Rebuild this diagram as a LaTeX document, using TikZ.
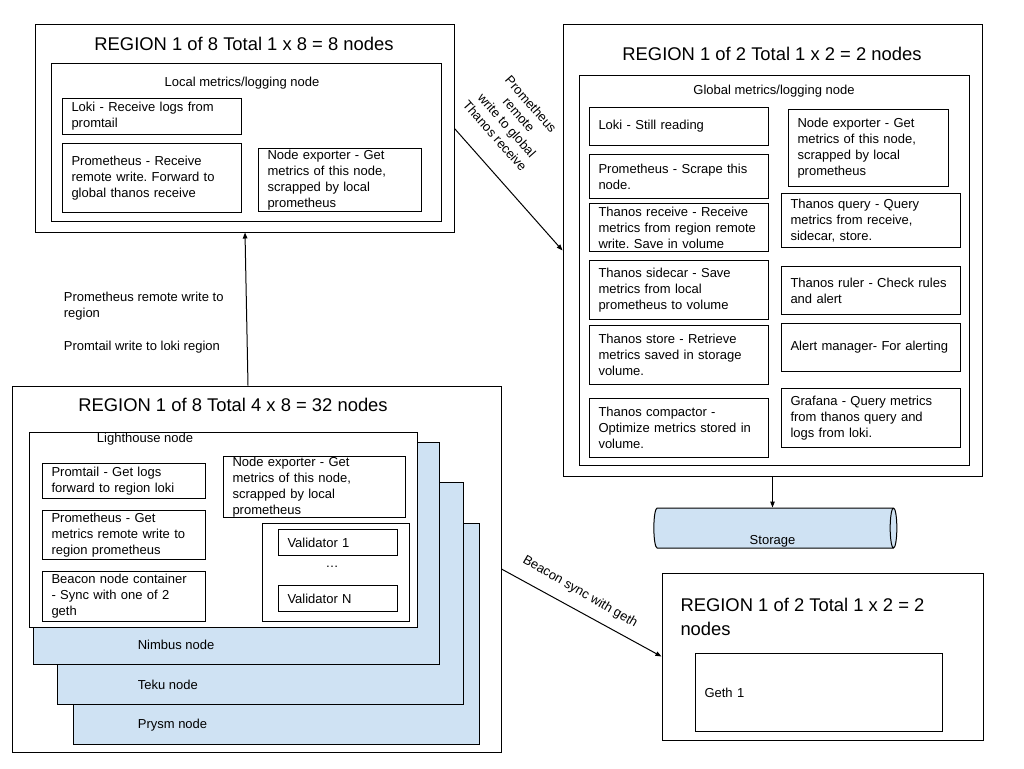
\documentclass[tikz,border=0pt]{standalone}
\usepackage{fontspec}
\setmainfont{Liberation Sans}
\frenchspacing
\usetikzlibrary{positioning,shapes.geometric,arrows.meta,calc}
\definecolor{clientblue}{HTML}{CFE2F3}
\newcommand{\regfont}{\fontsize{18.4}{24}\selectfont}
\newcommand{\compfont}{\fontsize{13}{16}\selectfont}

\begin{document}
\begin{tikzpicture}[x=1pt, y=-1pt, line width=1pt, >={Triangle[length=6pt,width=4.5pt]},
	region/.style = {draw},
	holder/.style = {draw, fill=white},
	client/.style = {draw, fill=clientblue},
	comp/.style 2 args = {draw, fill=white, anchor=north west, align=left, font=\compfont, inner xsep=9pt, inner ysep=0pt, text width=#1, minimum height=#2},
	heading/.style = {font=\regfont},
	caption/.style = {font=\compfont}]
			\useasboundingbox (0,0) rectangle (1024,768);
			
			% local region
			\node[region, minimum width=419pt, minimum height=207pt] (regA) at (244.5,128.5) {};
			\node[heading] (regAtitle) at (244,44) {REGION 1 of 8 Total 1 x 8 = 8 nodes};
			\node[holder, minimum width=390pt, minimum height=158pt] (localnode) at (246,142) {};
			\node[caption] (locallabel) at (242,83) {Local metrics/logging node};
			\node[comp={161pt}{36pt}] (lokiA) at (62,98) {Loki - Receive logs from\\promtail};
			\node[comp={161pt}{69pt}, below=8pt of lokiA.south west, anchor=north west] (promA) {Prometheus - Receive\\remote write. Forward to\\global thanos receive};
			\node[comp={145pt}{63pt}] (nodeexpA) at (258,148) {Node exporter - Get\\metrics of this node,\\scrapped by local\\prometheus};
			
			% global region
			\node[region, minimum width=419pt, minimum height=451pt] (regB) at (772.5,250.5) {};
			\node[heading] (regBtitle) at (772,54) {REGION 1 of 2 Total 1 x 2 = 2 nodes};
			\node[holder, minimum width=390pt, minimum height=390pt] (globalnode) at (774,270) {};
			\node[caption] (globallabel) at (774,91) {Global metrics/logging node};
			\node[comp={161pt}{38pt}] (lokiG) at (589,107) {Loki - Still reading};
			\node[comp={161pt}{44pt}, below=8pt of lokiG.south west, anchor=north west] (promG) {Prometheus - Scrape this\\node.};
			\node[comp={161pt}{48pt}, below=4pt of promG.south west, anchor=north west] (receive) {Thanos receive - Receive\\metrics from region remote\\write. Save in volume};
			\node[comp={161pt}{59pt}, below=8pt of receive.south west, anchor=north west] (sidecar) {Thanos sidecar - Save\\metrics from local\\prometheus to volume};
			\node[comp={161pt}{59pt}, below=5pt of sidecar.south west, anchor=north west] (store) {Thanos store - Retrieve\\metrics saved in storage\\volume.};
			\node[comp={161pt}{59pt}, below=13pt of store.south west, anchor=north west] (compactor) {Thanos compactor -\\Optimize metrics stored in\\volume.};
			\node[comp={142pt}{77pt}] (nodeexpG) at (788,109) {Node exporter - Get\\metrics of this node,\\scrapped by local\\prometheus};
			\node[comp={161pt}{54pt}] (query) at (781,193) {Thanos query - Query\\metrics from receive,\\sidecar, store.};
			\node[comp={161pt}{48pt}, below=18pt of query.south west, anchor=north west] (ruler) {Thanos ruler - Check rules\\and alert};
			\node[comp={161pt}{48pt}, below=8pt of ruler.south west, anchor=north west] (alertmgr) {Alert manager- For alerting};
			\node[comp={161pt}{59pt}, below=16pt of alertmgr.south west, anchor=north west] (grafana) {Grafana - Query metrics\\from thanos query and\\logs from loki.};
			
			\node[cylinder, draw, fill=clientblue, minimum height=243pt, minimum width=40pt, aspect=1, label={[caption, inner sep=1pt, anchor=south]south:Storage}] (storage) at (772.5,528) {};
			
			% client region
			\node[region, minimum width=489pt, minimum height=366pt] (regC) at (256.5,569) {};
			\node[heading] (regCtitle) at (233,405) {REGION 1 of 8 Total 4 x 8 = 32 nodes};
			\node[client, minimum width=406pt, minimum height=221pt] (prysm) at (276,633.5) {};
			\node[caption, anchor=west] (prysmlabel) at (134,725) {Prysm node};
			\node[client, minimum width=406pt, minimum height=222pt] (teku) at (260,593) {};
			\node[caption, anchor=west] (tekulabel) at (134,685) {Teku node};
			\node[client, minimum width=406pt, minimum height=222pt] (nimbus) at (236,553) {};
			\node[caption, anchor=west] (nimbuslabel) at (134,645) {Nimbus node};
			\node[holder, minimum width=388pt, minimum height=195pt] (lighthouse) at (223,529.5) {};
			\node[caption] (lighthouselabel) at (145,439) {Lighthouse node};
			\node[comp={145pt}{35pt}] (promtail) at (42,463) {Promtail - Get logs\\forward to region loki};
			\node[comp={145pt}{49pt}, below=11pt of promtail.south west, anchor=north west] (promL) {Prometheus - Get\\metrics remote write to\\region prometheus};
			\node[comp={145pt}{50pt}, below=11pt of promL.south west, anchor=north west] (beacon) {Beacon node container\\- Sync with one of 2\\geth};
			\node[comp={164pt}{61pt}] (nodeexpL) at (223,456) {Node exporter - Get\\metrics of this node,\\scrapped by local\\prometheus};
			\node[holder, minimum width=147pt, minimum height=98pt, anchor=north west] (validators) at (262,523) {};
			\node[comp={101pt}{26pt}] (val1) at (278,529) {Validator 1};
			\node[caption] (valdots) at (332,567) {\ldots};
			\node[comp={101pt}{26pt}] (valN) at (278,585) {Validator N};
			
			% geth region
			\node[region, minimum width=321pt, minimum height=167pt] (regD) at (822.5,656.5) {};
			\node[heading, align=left, anchor=west, inner sep=0pt] (regDtitle) at (680,617) {REGION 1 of 2 Total 1 x 2 = 2\\nodes};
			\node[comp={229pt}{78pt}] (geth) at (695,653) {Geth 1};
			
			% connections
			\draw[->] (regA.east) -- (regB.west);
			\node[caption, align=center, rotate=-48.6] (remotelabel) at (513,120) {Prometheus\\remote\\write to global\\Thanos receive};
			\draw[->] (regB.south) -- (storage.north);
			\draw[->] ($(regC.north)+(-8.5,0)$) -- ($(regA.south)+(0.5,0)$);
			\node[caption, align=left, anchor=west] (promwritelabel) at (60,306) {Prometheus remote write to\\region};
			\node[caption, anchor=west] (promtaillabel) at (60,347) {Promtail write to loki region};
			\draw[->] (regC.east) -- (regD.west);
			\node[caption, rotate=-30] (beaconlabel) at (580,592) {Beacon sync with geth};
		\end{tikzpicture}
\end{document}
